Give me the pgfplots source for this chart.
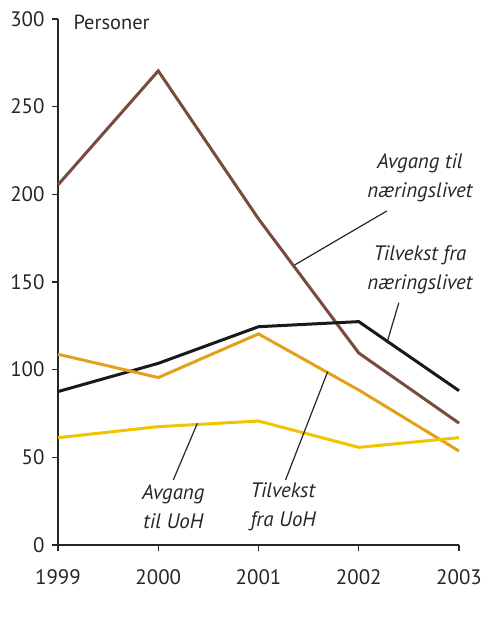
\documentclass[border=0pt]{standalone}
\usepackage{fontspec}
\setmainfont{PT Sans}
\usepackage{pgfplots}
\pgfplotsset{compat=1.18}
\definecolor{cbrown}{HTML}{7B4A3E}
\definecolor{corange}{HTML}{E3A11A}
\definecolor{cyellow}{HTML}{F2C400}
\begin{document}
\begin{tikzpicture}
\path[use as bounding box] (-58bp,-74bp) rectangle (442bp,545bp);
\begin{axis}[
  at={(0,0)}, anchor=south west,
  scale only axis, width=401bp, height=526bp,
  xmin=1999, xmax=2003, ymin=0, ymax=300,
  axis x line*=bottom, axis y line*=left,
  axis line style={line width=1.3bp, black!85},
  xtick={1999,2000,2001,2002,2003},
  ytick={0,50,...,300},
  tick align=outside, major tick length=6bp,
  tick style={line width=1.2bp, black!85},
  /pgf/number format/assume math mode=true,
  /pgf/number format/1000 sep={},
  tick label style={font=\fontsize{21}{24}\selectfont, text=black!85},
  xticklabel style={yshift=-15bp},
  yticklabel style={xshift=-4bp},
  clip=false,
]
\addplot[cbrown, line width=3bp] coordinates {(1999,205.4) (2000,270.4) (2001,186) (2002,109.5) (2003,69.5)};
\addplot[black!90, line width=3bp] coordinates {(1999,87.5) (2000,103.6) (2001,124.5) (2002,127.4) (2003,88)};
\addplot[corange, line width=3bp] coordinates {(1999,108.8) (2000,95.5) (2001,120.4) (2002,88.4) (2003,53.6)};
\addplot[cyellow, line width=3bp] coordinates {(1999,61.2) (2000,67.5) (2001,70.7) (2002,55.7) (2003,61.2)};
\node[anchor=west, font=\fontsize{20.5}{24}\selectfont, text=black!85] at (axis cs:1999.12,298) {Personer};
\begin{scope}[font=\fontsize{21}{29}\selectfont\itshape, black!85]
\node[align=center] at (axis cs:2002.61,209.4) {Avgang til\\næringslivet};
\draw[line width=1.2bp] (axis cs:2002.28,190.5) -- (axis cs:2001.36,159.7);
\node[align=center] at (axis cs:2002.61,156.9) {Tilvekst fra\\næringslivet};
\draw[line width=1.2bp] (axis cs:2002.40,138.2) -- (axis cs:2002.28,115.1);
\node[align=center] at (axis cs:2000.15,21.7) {Avgang\\til UoH};
\draw[line width=1.2bp] (axis cs:2000.15,37.1) -- (axis cs:2000.39,69.4);
\node[align=left, anchor=west, inner sep=0pt] at (axis cs:2000.92,21.7) {Tilvekst\\fra UoH};
\draw[line width=1.2bp] (axis cs:2001.27,37.1) -- (axis cs:2001.69,98.9);
\end{scope}
\end{axis}
\end{tikzpicture}
\end{document}
